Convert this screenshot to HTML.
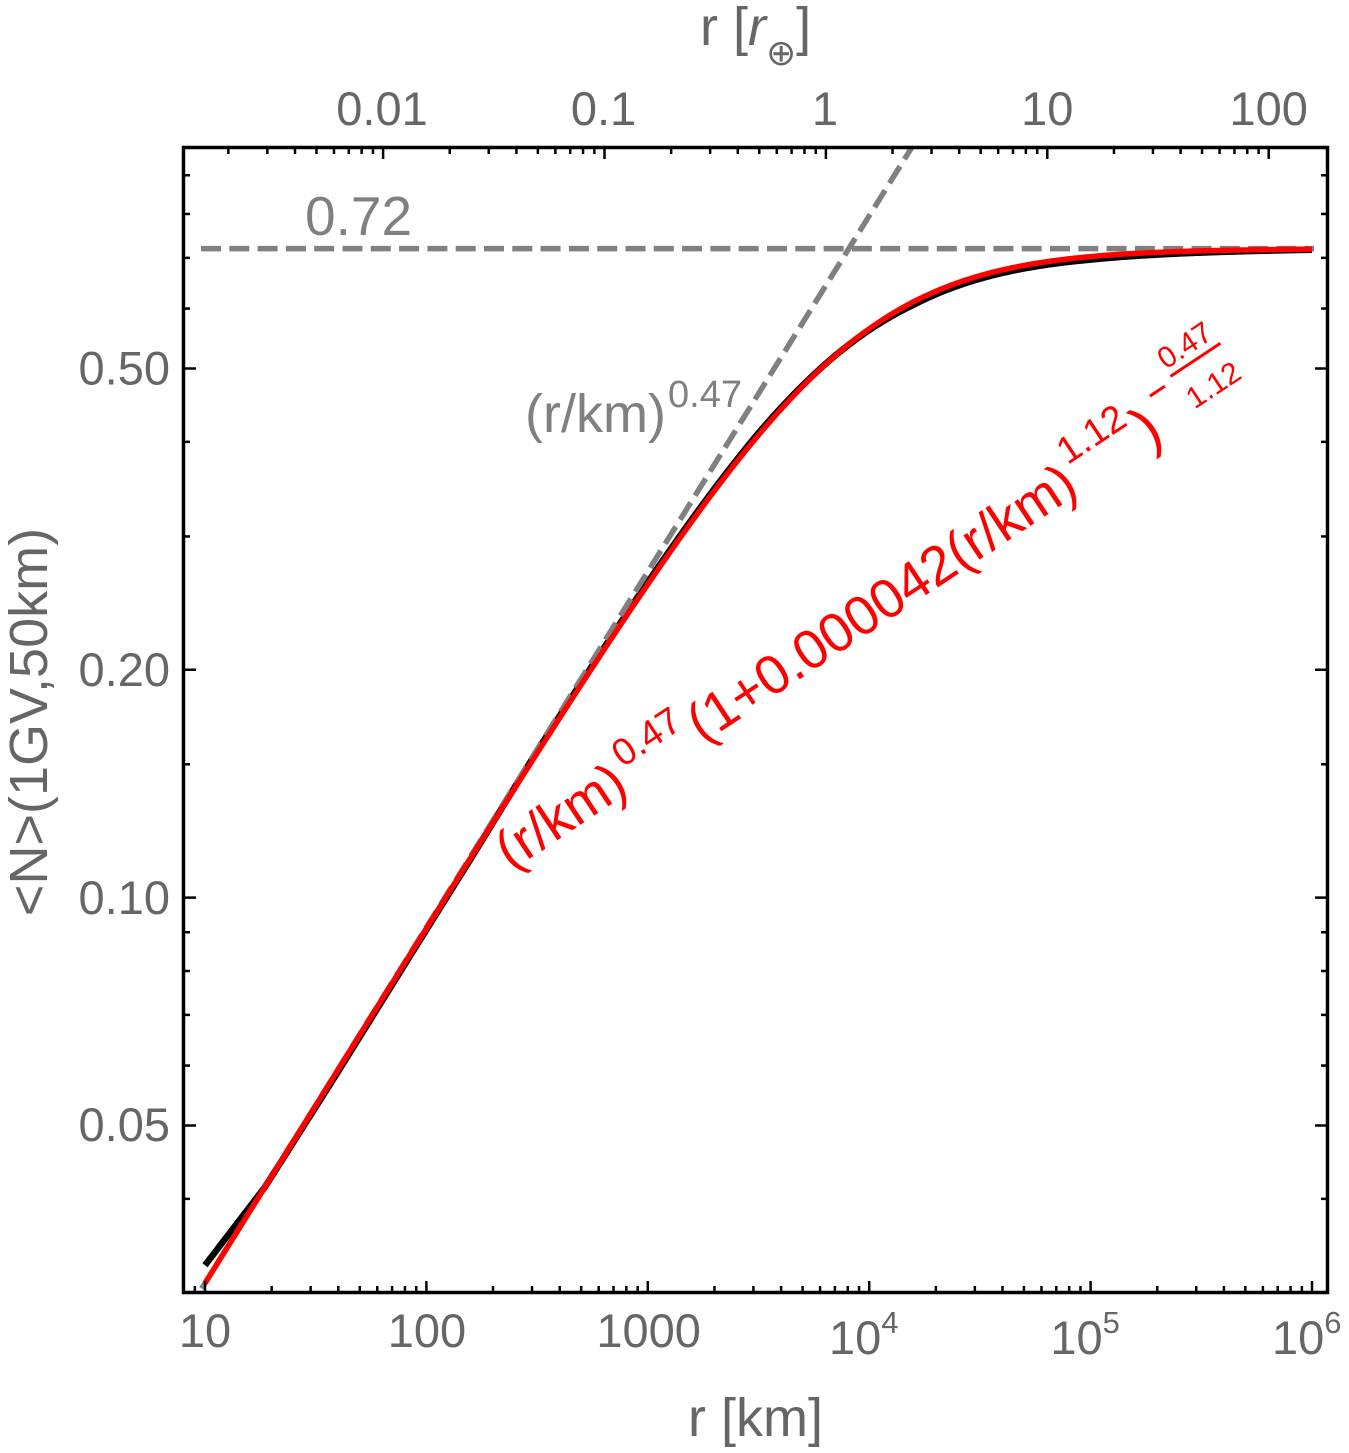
<!DOCTYPE html>
<html><head><meta charset="utf-8">
<style>
html,body{margin:0;padding:0;background:#fff;}
svg{display:block;}
text{font-family:"Liberation Sans",Arial,sans-serif;}
</style></head>
<body>
<svg id="s" width="1349" height="1453" viewBox="0 0 1349 1453" xmlns="http://www.w3.org/2000/svg">
<rect width="1349" height="1453" fill="#fff"/>
<defs><clipPath id="clip"><rect x="185" y="149" width="1141" height="1142"/></clipPath></defs>
<g clip-path="url(#clip)">
 <path id="black" fill="none" stroke="#000" stroke-width="6.5"/>
 <path id="gdiag" fill="none" stroke="#808080" stroke-width="5.5" stroke-dasharray="20 8.3"/>
 <line x1="201" y1="248.6" x2="1314" y2="248.6" stroke="#808080" stroke-width="5.5" stroke-dasharray="20 8.3"/>
 <path id="red" fill="none" stroke="#ff0000" stroke-width="5.5"/>
</g>
<g id="ticks" stroke="#000" stroke-width="2.5"></g>
<rect x="183.5" y="147.5" width="1144" height="1145" fill="none" stroke="#000" stroke-width="3.5"/>

<!-- left tick labels -->
<g font-size="47" fill="#666" text-anchor="end">
<text x="170" y="384.5">0.50</text>
<text x="170" y="686">0.20</text>
<text x="170" y="914">0.10</text>
<text x="170" y="1141">0.05</text>
</g>
<!-- bottom tick labels -->
<g font-size="47" fill="#666">
<text x="205" y="1347" text-anchor="middle">10</text>
<text x="427" y="1347" text-anchor="middle">100</text>
<text x="648.6" y="1347" text-anchor="middle">1000</text>
<text x="829" y="1354">10<tspan font-size="31" dy="-21">4</tspan></text>
<text x="1050.4" y="1354">10<tspan font-size="31" dy="-21">5</tspan></text>
<text x="1272" y="1354">10<tspan font-size="31" dy="-21">6</tspan></text>
</g>
<!-- top tick labels -->
<g font-size="47" fill="#666" text-anchor="middle">
<text x="382" y="125">0.01</text>
<text x="603.5" y="125">0.1</text>
<text x="825" y="125">1</text>
<text x="1047.3" y="125">10</text>
<text x="1268.7" y="125">100</text>
</g>
<!-- axis titles -->
<text x="755.5" y="1436" font-size="54" fill="#666" text-anchor="middle">r [km]</text>
<text x="700" y="45" font-size="54" fill="#666">r [<tspan font-style="italic">r</tspan><tspan font-family="DejaVu Sans" font-size="36" dy="20">⊕</tspan><tspan dy="-20">]</tspan></text>
<text transform="translate(47,722) rotate(-90)" text-anchor="middle" font-size="54" fill="#666">&lt;N&gt;(1GV,50km)</text>

<!-- gray annotations -->
<text x="305" y="235" font-size="55" fill="#808080">0.72</text>
<text x="525" y="432" font-size="54" fill="#808080">(r/km)</text>
<text x="668" y="407" font-size="38" fill="#808080">0.47</text>

<!-- red annotation -->
<g transform="translate(511,871) rotate(-33.6)" fill="#ff0000" font-size="55">
<text x="0" y="0">(r/km)</text>
<text x="150" y="-24" font-size="38">0.47</text>
<text x="230" y="0">(1+0.000042(r/km)</text>
<text x="688" y="-30" font-size="38">1.12</text>
<text x="765" y="2" font-size="60">)</text>
<line x1="795" y1="-42" x2="813" y2="-42" stroke="#ff0000" stroke-width="3"/>
<text x="852" y="-55" font-size="30" text-anchor="middle">0.47</text>
<line x1="823" y1="-47" x2="883" y2="-47" stroke="#ff0000" stroke-width="3"/>
<text x="854" y="-6" font-size="30" text-anchor="middle">1.12</text>
</g>
</svg>
<script>
(function(){
var NS="http://www.w3.org/2000/svg";
function X(r){return 205+221.4*(Math.log10(r)-1);}
function Y(v){return 368.5-757*Math.log10(v/0.5);}
var p=0.47/1.12, a=0.72*Math.pow(4.2e-5,p);
function f(r){return a*Math.pow(r,0.47)*Math.pow(1+4.2e-5*Math.pow(r,1.12),-p);}
var D=[[1,-18],[1.27,0],[1.6,2],[2.2,1],[2.5,-2],[3.5,-2],[3.85,0],[4.2,3],[5,3],[5.6,1.5],[6,0.5]];
function dev(l){for(var i=0;i<D.length-1;i++){if(l<=D[i+1][0]){var t=(l-D[i][0])/(D[i+1][0]-D[i][0]);return D[i][1]+t*(D[i+1][1]-D[i][1]);}}return D[D.length-1][1];}
var dr="",db="";
for(var i=0;i<=500;i++){var l=1+5*i/500,r=Math.pow(10,l);var x=X(r),y=Y(f(r));
 dr+=(i?"L":"M")+x.toFixed(2)+","+y.toFixed(2);
 db+=(i?"L":"M")+x.toFixed(2)+","+(y+dev(l)).toFixed(2);}
document.getElementById("red").setAttribute("d",dr);
document.getElementById("black").setAttribute("d",db);
function g(r){return a*Math.pow(r,0.47);}
var r1=Math.pow(10,0.85),r2=Math.pow(10,4.5);
document.getElementById("gdiag").setAttribute("d","M"+X(r1).toFixed(2)+","+Y(g(r1)).toFixed(2)+"L"+X(r2).toFixed(2)+","+Y(g(r2)).toFixed(2));
var T=document.getElementById("ticks");
function ln(x1,y1,x2,y2){var e=document.createElementNS(NS,"line");e.setAttribute("x1",x1);e.setAttribute("y1",y1);e.setAttribute("x2",x2);e.setAttribute("y2",y2);T.appendChild(e);}
var e,m,x;
for(e=0;e<=6;e++)for(m=1;m<=9;m++){x=X(m*Math.pow(10,e));if(x<186||x>1325)continue;ln(x,1292,x,m==1?1281:1286);}
for(e=-3;e<=2;e++)for(m=1;m<=9;m++){x=825.9+221.4*Math.log10(m*Math.pow(10,e));if(x<186||x>1325)continue;ln(x,148,x,m==1?159:154);}
var maj=[0.05,0.1,0.2,0.5],mn=[0.04,0.06,0.07,0.08,0.09,0.15,0.3,0.4,0.6,0.7,0.8,0.9];
maj.forEach(function(v){var y=Y(v);ln(184,y,196,y);ln(1327,y,1315,y);});
mn.forEach(function(v){var y=Y(v);ln(184,y,190,y);ln(1327,y,1321,y);});
})();
</script>
</body></html>
